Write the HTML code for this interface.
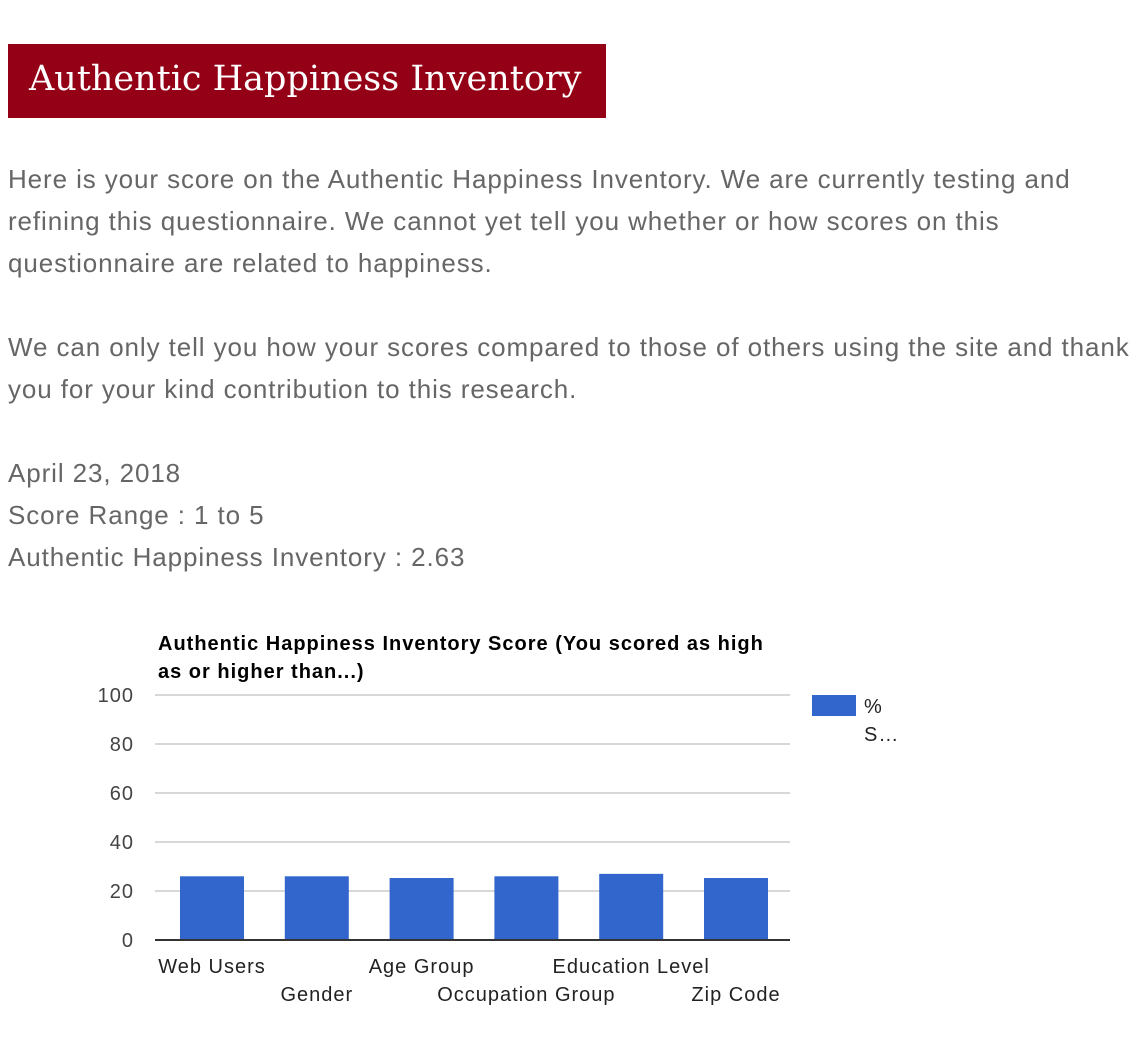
<!DOCTYPE html>
<html><head><meta charset="utf-8">
<style>
html,body{margin:0;padding:0;background:#fff;width:1144px;height:1054px;overflow:hidden;position:relative}
.t{position:absolute;left:8px;font-family:"Liberation Sans",sans-serif;font-size:26px;letter-spacing:0.9px;color:#666;white-space:nowrap;line-height:30px}
#banner{position:absolute;left:8px;top:44px;width:598px;height:74px;background:#940016}
#banner span{position:absolute;left:21px;top:15px;font-family:"DejaVu Serif","Liberation Serif",serif;font-size:35px;color:#fff;white-space:nowrap}
</style></head><body>
<div id="banner"><span>Authentic Happiness Inventory</span></div>
<div class="t" style="top:164px">Here is your score on the Authentic Happiness Inventory. We are currently testing and</div>
<div class="t" style="top:206px">refining this questionnaire. We cannot yet tell you whether or how scores on this</div>
<div class="t" style="top:248px">questionnaire are related to happiness.</div>
<div class="t" style="top:332px">We can only tell you how your scores compared to those of others using the site and thank</div>
<div class="t" style="top:374px">you for your kind contribution to this research.</div>
<div class="t" style="top:458px">April 23, 2018</div>
<div class="t" style="top:500px">Score Range : 1 to 5</div>
<div class="t" style="top:542px">Authentic Happiness Inventory : 2.63</div>
<svg id="chart" width="1144" height="1054" style="position:absolute;left:0;top:0" font-family="Liberation Sans, sans-serif">
<text x="158" y="650" font-size="20" letter-spacing="1" font-weight="bold" fill="#000">Authentic Happiness Inventory Score (You scored as high</text>
<text x="158" y="678" font-size="20" letter-spacing="1" font-weight="bold" fill="#000">as or higher than...)</text>
<g id="grid"></g><g id="bars"></g><g id="labels"></g>
<rect x="812" y="695" width="44" height="21" fill="#3366cc"/>
<text x="864" y="713" font-size="20" letter-spacing="1" fill="#222">%</text>
<text x="864" y="741" font-size="20" letter-spacing="1" fill="#222">S…</text>
</svg>
<script>
const categories=["Web Users","Gender","Age Group","Occupation Group","Education Level","Zip Code"];
const values=[26,26,25.3,26,27,25.3];
const ticks=[0,20,40,60,80,100];
const NS="http://www.w3.org/2000/svg";
const gx0=155,gx1=790,x0=159.6,cw=104.8,y0=940,y100=695;
const yScale=v=>y0-(v/100)*(y0-y100);
const xScale=i=>x0+cw*(i+0.5);
function mk(tag,attrs,parent){const e=document.createElementNS(NS,tag);for(const k in attrs)e.setAttribute(k,attrs[k]);document.getElementById(parent).appendChild(e);return e;}
ticks.forEach(t=>{
  const y=yScale(t);
  const l=mk('line',{x1:gx0,x2:gx1,y1:y,y2:y,stroke:t===0?'#333':'#ccc','stroke-width':t===0?2:1.5},'grid');
  
  
  const tx=mk('text',{x:134,y:y+7,'font-size':20,'letter-spacing':1,fill:'#444','text-anchor':'end'},'grid');
  tx.textContent=t;
  
  
});
values.forEach((v,i)=>{
  const bw=64,cx=xScale(i);
  const r=mk('rect',{x:cx-bw/2,y:yScale(v),width:bw,height:y0-yScale(v),fill:'#3366cc'},'bars');
  
  
  const tx=mk('text',{x:cx,y:i%2===0?973:1001,'font-size':20,'letter-spacing':1,fill:'#222','text-anchor':'middle'},'labels');
  tx.textContent=categories[i];
  
  
});
mk('line',{x1:gx0,x2:gx1,y1:y0,y2:y0,stroke:'#333','stroke-width':2},'bars');
</script>
</body></html>
